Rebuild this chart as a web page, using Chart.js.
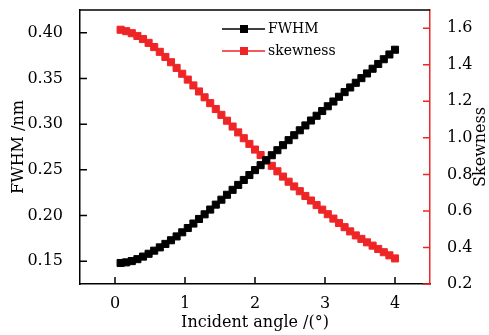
<!DOCTYPE html>
<html><head><meta charset="utf-8">
<script src="https://cdn.jsdelivr.net/npm/chart.js@4/dist/chart.umd.min.js"></script>
<style>html,body{margin:0;padding:0;background:#fff}</style>
</head><body>
<canvas id="c" width="489" height="335"></canvas>
<script>
const angles = [0.08,0.16,0.24,0.32,0.40,0.48,0.56,0.64,0.72,0.80,
  0.88,0.96,1.04,1.12,1.20,1.28,1.36,1.44,1.52,1.60,
  1.68,1.76,1.84,1.92,2.00,2.08,2.16,2.24,2.32,2.40,
  2.48,2.56,2.64,2.72,2.80,2.88,2.96,3.04,3.12,3.20,
  3.28,3.36,3.44,3.52,3.60,3.68,3.76,3.84,3.92,4.00];
const fwhm = [0.1480,0.1487,0.1501,0.1522,0.1550,0.1581,0.1615,0.1651,0.1689,0.1729,
  0.1771,0.1816,0.1863,0.1912,0.1962,0.2013,0.2065,0.2119,0.2173,0.2227,
  0.2281,0.2335,0.2389,0.2443,0.2497,0.2551,0.2605,0.2660,0.2715,0.2770,
  0.2825,0.2879,0.2933,0.2986,0.3040,0.3092,0.3144,0.3196,0.3248,0.3300,
  0.3351,0.3402,0.3453,0.3504,0.3555,0.3607,0.3659,0.3711,0.3763,0.3815];
const skewness = [1.592,1.584,1.573,1.558,1.541,1.520,1.497,1.471,1.443,1.414,
  1.383,1.351,1.319,1.287,1.254,1.222,1.190,1.158,1.126,1.094,
  1.062,1.030,0.998,0.967,0.936,0.906,0.876,0.847,0.817,0.788,
  0.760,0.734,0.708,0.682,0.657,0.632,0.607,0.582,0.558,0.534,
  0.511,0.488,0.466,0.447,0.428,0.410,0.392,0.374,0.357,0.340];
const xTicks = [0,1,2,3,4];
const fwhmTicks = [0.15,0.20,0.25,0.30,0.35,0.40];
const skewTicks = [0.2,0.4,0.6,0.8,1.0,1.2,1.4,1.6];
const seriesNames = ['FWHM','skewness'];
const xTitle = 'Incident angle /(°)';
const yTitle = 'FWHM /nm';
const y2Title = 'Skewness';

const RED = '#ee2527';
const FONT = '"DejaVu Serif", serif';

const decor = {
  id: 'decor',
  afterDraw(chart) {
    const ctx = chart.ctx, a = chart.chartArea;
    const sx = chart.scales.x, sl = chart.scales.y, sr = chart.scales.y2;
    ctx.save();
    ctx.lineWidth = 1.5;
    ctx.strokeStyle = '#000';
    ctx.beginPath();
    ctx.moveTo(a.left, a.top); ctx.lineTo(a.right, a.top);
    sx.ticks.forEach(t => { const p = sx.getPixelForValue(t.value); ctx.moveTo(p, a.bottom); ctx.lineTo(p, a.bottom - 7); });
    sl.ticks.forEach(t => { const p = sl.getPixelForValue(t.value); ctx.moveTo(a.left, p); ctx.lineTo(a.left + 7, p); });
    ctx.stroke();
    ctx.strokeStyle = RED;
    ctx.beginPath();
    sr.ticks.forEach(t => { const p = sr.getPixelForValue(t.value); ctx.moveTo(a.right, p); ctx.lineTo(a.right - 7, p); });
    ctx.stroke();

    // axis titles
    ctx.fillStyle = '#000';
    ctx.font = '16px ' + FONT;
    ctx.textAlign = 'center';
    ctx.textBaseline = 'middle';
    ctx.fillText(xTitle, (a.left + a.right) / 2, 323);
    const cy = (a.top + a.bottom) / 2;
    ctx.save(); ctx.translate(19, cy); ctx.rotate(-Math.PI / 2); ctx.fillText(yTitle, 0, 0); ctx.restore();
    ctx.save(); ctx.translate(481, cy); ctx.rotate(-Math.PI / 2); ctx.fillText(y2Title, 0, 0); ctx.restore();

    // legend
    const items = chart.data.datasets;
    ctx.font = '14px ' + FONT;
    ctx.textAlign = 'left';
    items.forEach((ds, i) => {
      const y = 29 + i * 22;
      ctx.strokeStyle = ds.borderColor; ctx.lineWidth = 1.5;
      ctx.beginPath(); ctx.moveTo(222, y); ctx.lineTo(265, y); ctx.stroke();
      ctx.fillStyle = ds.borderColor;
      ctx.fillRect(240, y - 4, 8, 8);
      ctx.fillStyle = '#000';
      ctx.fillText(ds.label, 268, y);
    });
    ctx.restore();
  }
};

const setTicks = arr => scale => { scale.ticks = arr.map(v => ({ value: v })); };
const noPadV = s => { s.paddingTop = 0; s.paddingBottom = 0; };

new Chart(document.getElementById('c'), {
  type: 'line',
  data: {
    datasets: [
      { label: seriesNames[0], data: angles.map((x, i) => ({ x, y: fwhm[i] })), yAxisID: 'y',
        borderColor: '#000', backgroundColor: '#000', borderWidth: 1.2,
        pointStyle: 'rect', pointRadius: 5, pointBorderWidth: 1, pointHoverRadius: 5 },
      { label: seriesNames[1], data: angles.map((x, i) => ({ x, y: skewness[i] })), yAxisID: 'y2',
        borderColor: RED, backgroundColor: RED, borderWidth: 1.2,
        pointStyle: 'rect', pointRadius: 5, pointBorderWidth: 1, pointHoverRadius: 5 }
    ]
  },
  options: {
    responsive: false,
    animation: false,
    events: [],
    layout: { padding: { top: 10, left: 0, right: 0, bottom: 0 } },
    plugins: { legend: { display: false }, tooltip: { enabled: false } },
    scales: {
      x: {
        type: 'linear', min: -0.5, max: 4.5,
        afterBuildTicks: setTicks(xTicks),
        afterFit: s => { s.height = 51; s.paddingLeft = 0; s.paddingRight = 0; },
        grid: { display: false },
        border: { display: true, color: '#000', width: 1.5 },
        ticks: { color: '#000', font: { family: FONT, size: 16 }, padding: 2, maxRotation: 0,
          callback: v => String(v) }
      },
      y: {
        position: 'left', min: 0.125, max: 0.425,
        afterBuildTicks: setTicks(fwhmTicks),
        afterFit: s => { s.width = 80; noPadV(s); },
        grid: { display: false },
        border: { display: true, color: '#000', width: 1.5 },
        ticks: { color: '#000', font: { family: FONT, size: 16 }, padding: 9,
          callback: v => Number(v).toFixed(2) }
      },
      y2: {
        position: 'right', min: 0.2, max: 1.7,
        afterBuildTicks: setTicks(skewTicks),
        afterFit: s => { s.width = 59; noPadV(s); },
        grid: { display: false },
        border: { display: true, color: RED, width: 1.5 },
        ticks: { color: '#000', font: { family: FONT, size: 16 }, padding: 9,
          callback: v => Number(v).toFixed(1) }
      }
    }
  },
  plugins: [decor]
});
</script>
</body></html>
